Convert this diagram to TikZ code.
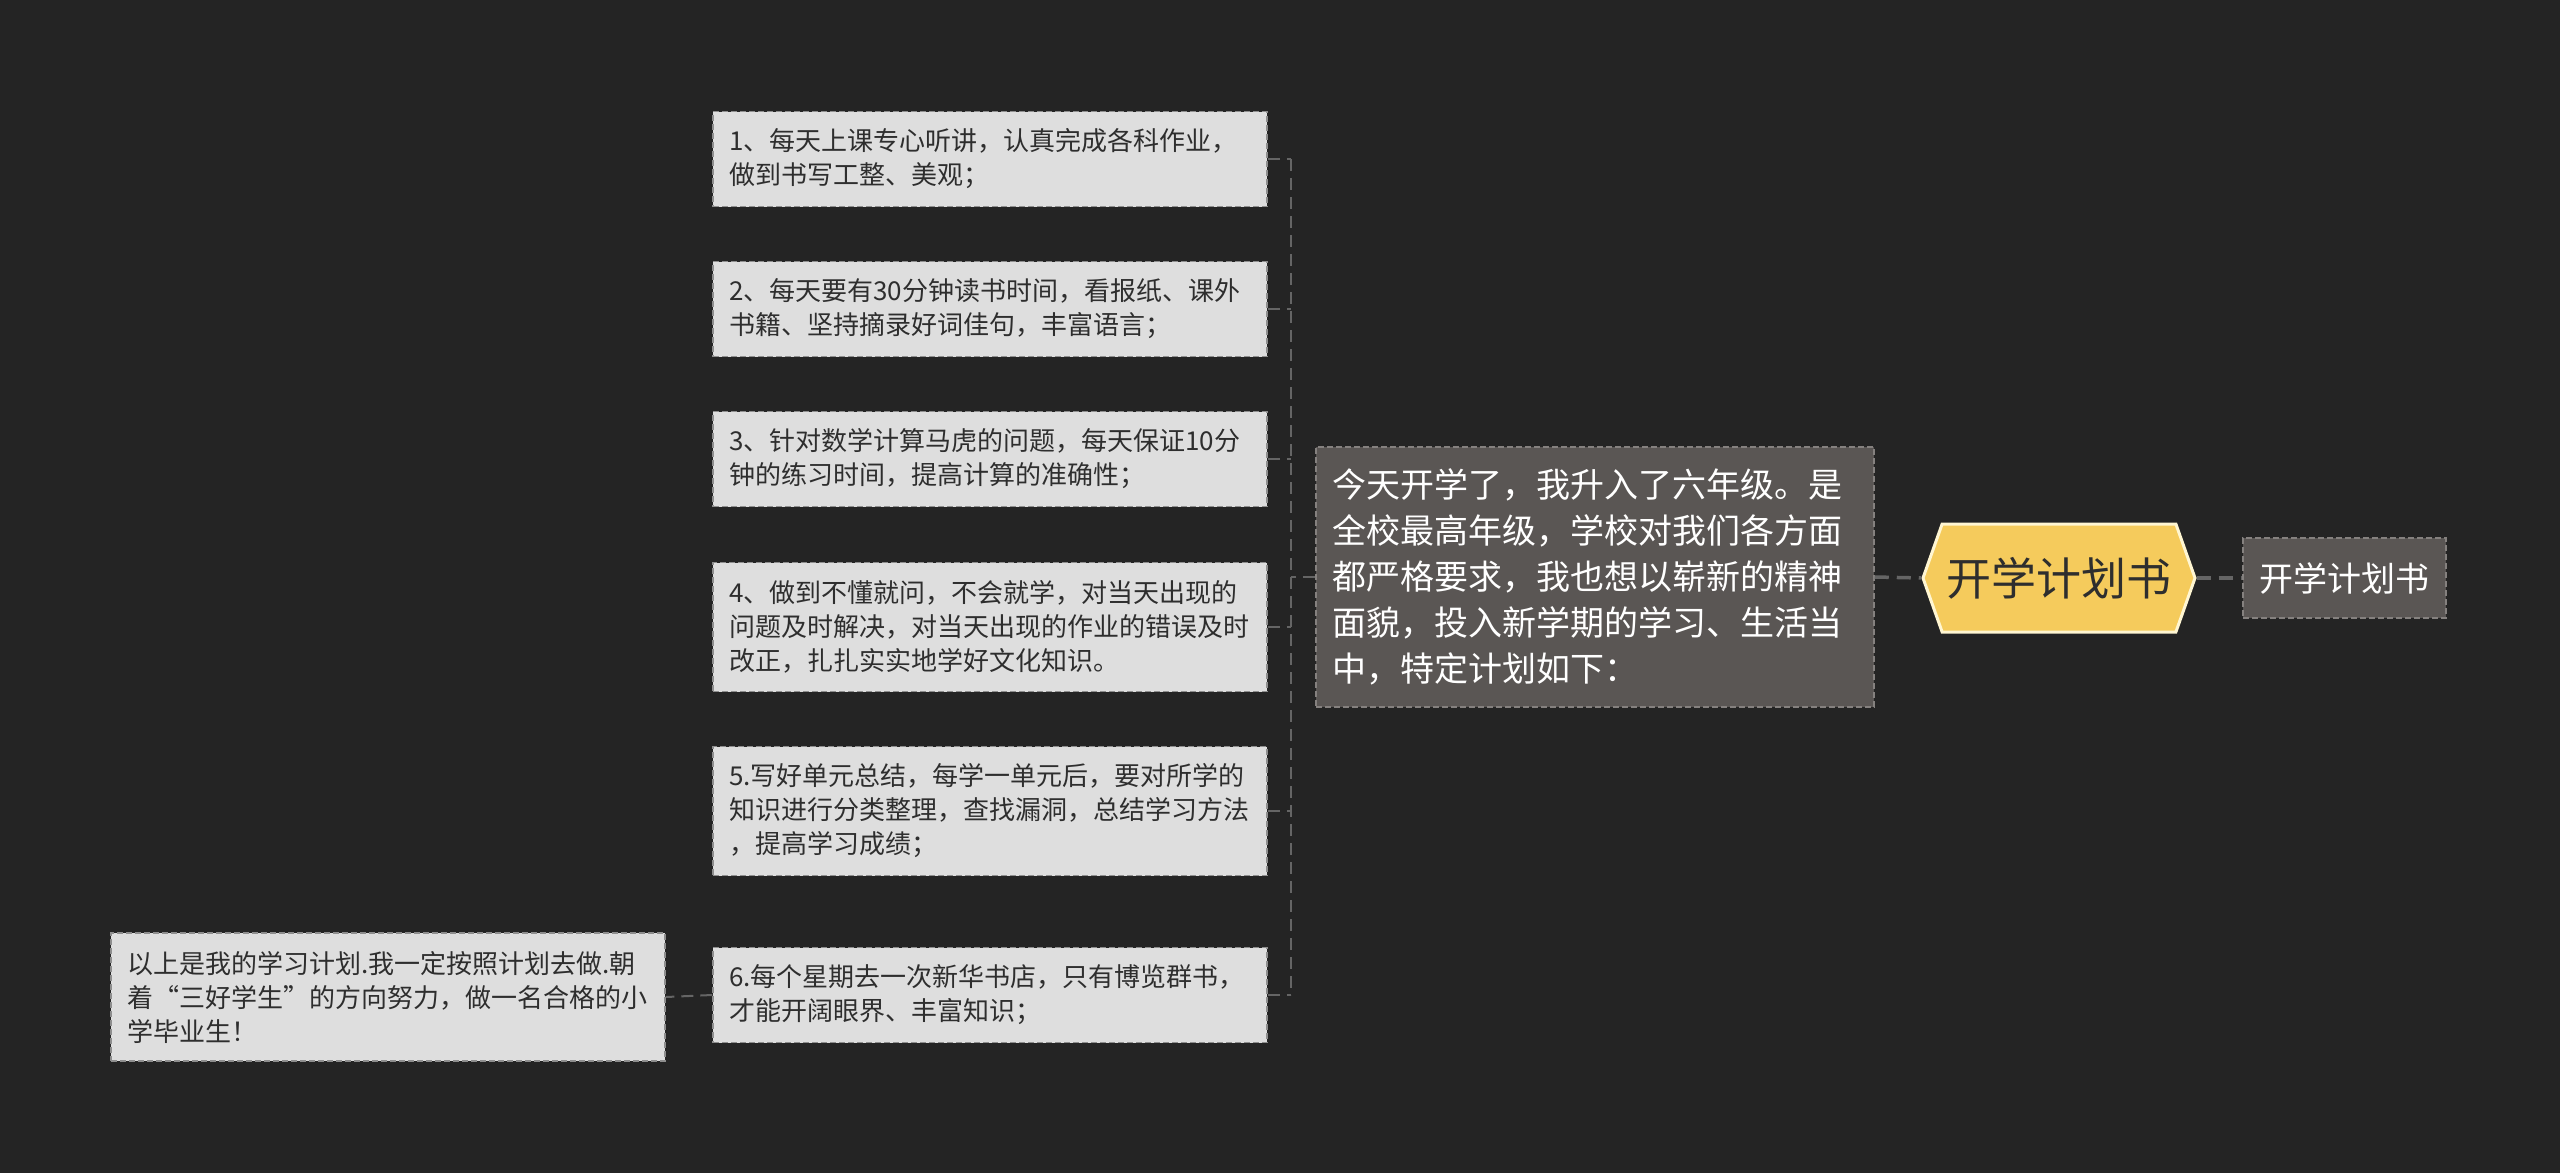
\documentclass[tikz,border=0pt]{standalone}
\usepackage{fontspec}
\setmainfont{Noto Sans CJK SC}
\usetikzlibrary{shapes.symbols}
\definecolor{bg}{HTML}{242424}
\definecolor{lightfill}{HTML}{DEDEDE}
\definecolor{lightedge}{HTML}{8E8E8E}
\definecolor{darkfill}{HTML}{5A5654}
\definecolor{darkedge}{HTML}{85817F}
\definecolor{wire}{HTML}{656565}
\definecolor{gold}{HTML}{F5CB5C}
\definecolor{cream}{HTML}{FFF6D2}
\definecolor{ink}{HTML}{2E2E2E}
\begin{document}
\begin{tikzpicture}[x=1pt,y=-1pt,
  leaf/.style={rectangle, fill=lightfill, draw=lightedge, line width=1.5pt,
    dash pattern=on 6pt off 3pt, text=ink, font=\fontsize{26}{34}\selectfont,
    text width=522pt, align=left, inner xsep=16pt, inner ysep=0pt},
  darkbox/.style={rectangle, fill=darkfill, draw=darkedge, line width=1.5pt,
    dash pattern=on 6pt off 3pt, text=white, inner sep=0pt},
  wire/.style={draw=wire, line width=2pt, dash pattern=on 12pt off 7pt},
  mainwire/.style={draw=wire, line width=3.5pt, dash pattern=on 14pt off 8pt}]
\useasboundingbox (0,0) rectangle (2560,1173);
\fill[bg] (0,0) rectangle (2560,1173);

\node[leaf, minimum height=95pt] (b1) at (990,159)
  {1、每天上课专心听讲，认真完成各科作业，\\做到书写工整、美观；};
\node[leaf, minimum height=95pt] (b2) at (990,309)
  {2、每天要有30分钟读书时间，看报纸、课外\\书籍、坚持摘录好词佳句，丰富语言；};
\node[leaf, minimum height=95pt] (b3) at (990,459)
  {3、针对数学计算马虎的问题，每天保证10分\\钟的练习时间，提高计算的准确性；};
\node[leaf, minimum height=129pt] (b4) at (990,627)
  {4、做到不懂就问，不会就学，对当天出现的\\问题及时解决，对当天出现的作业的错误及时\\改正，扎扎实实地学好文化知识。};
\node[leaf, minimum height=129pt] (b5) at (990,811)
  {5.写好单元总结，每学一单元后，要对所学的\\知识进行分类整理，查找漏洞，总结学习方法\\，提高学习成绩；};
\node[leaf, minimum height=95pt] (b6) at (990,995)
  {6.每个星期去一次新华书店，只有博览群书，\\才能开阔眼界、丰富知识；};
\node[leaf, minimum height=128pt] (end) at (388,997)
  {以上是我的学习计划.我一定按照计划去做.朝\\着“三好学生”的方向努力，做一名合格的小\\学毕业生！};

\node[darkbox, text width=526pt, inner xsep=16pt, minimum height=260pt, align=left,
  font=\fontsize{34}{46}\selectfont] (topic) at (1595,577)
  {今天开学了，我升入了六年级。是\\全校最高年级，学校对我们各方面\\都严格要求，我也想以崭新的精神\\面貌，投入新学期的学习、生活当\\中，特定计划如下：};

\node[signal, signal to=west and east, signal pointer angle=141, fill=gold,
  draw=cream, line width=3pt, minimum width=272pt, minimum height=108pt,
  inner sep=0pt, text=ink, font=\fontsize{45}{50}\selectfont] (root) at (2059,578) {开学计划书};

\node[darkbox, minimum width=203pt, minimum height=80pt,
  font=\fontsize{34}{40}\selectfont] (tag) at (2344.5,578) {开学计划书};

\coordinate (bus) at (1291,577);
\draw[mainwire] (topic.east) -- (root.west);
\draw[mainwire] (root.east) -- (tag.west);
\draw[wire] (topic.west) -- (bus);
\draw[wire] (b1.east -| bus) -- (b6.east -| bus);
\foreach \n in {b1,b2,b3,b4,b5,b6} \draw[wire] (\n.east) -- (\n.east -| bus);
\draw[wire] (b6.west) -- (end.east);
\end{tikzpicture}
\end{document}
